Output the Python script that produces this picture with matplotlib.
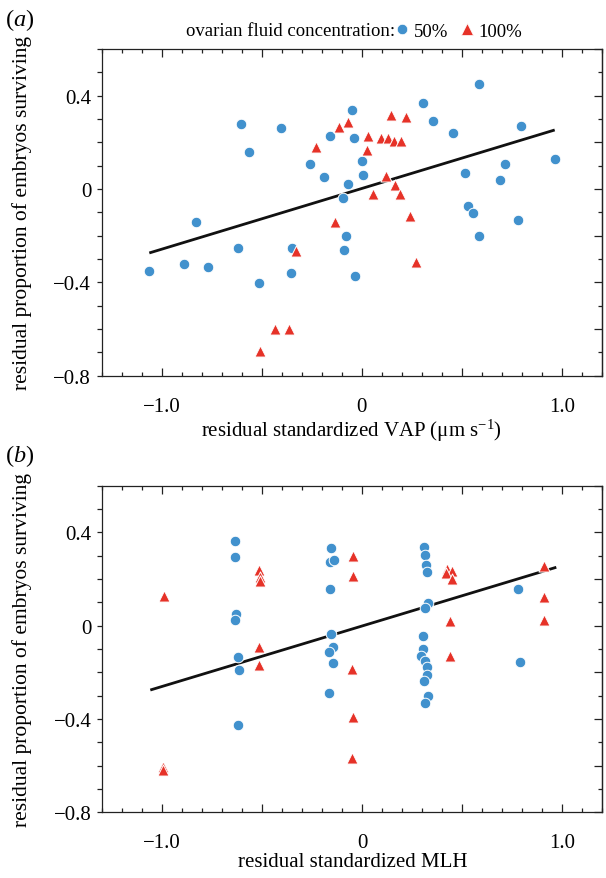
import numpy as np
import matplotlib
matplotlib.use("Agg")
import matplotlib.pyplot as plt
from matplotlib.ticker import MultipleLocator, FuncFormatter
from matplotlib.lines import Line2D

plt.rcParams['font.family'] = ['Liberation Serif', 'DejaVu Serif']
plt.rcParams['mathtext.fontset'] = 'custom'
plt.rcParams['mathtext.rm'] = 'Liberation Serif'
plt.rcParams['mathtext.it'] = 'Liberation Serif:italic'

# panel (a): residual VAP vs residual survival
vap_50_x = [-0.603, -0.402, -0.563, -0.159, -0.047, -0.037, -0.257, -0.187, -0.068, -0.095,
            0.307, 0.585, 0.358, 0.458, 0.798, 0.0, 0.008, 0.518, 0.718, 0.967,
            0.693, 0.532, -1.063, -0.887, -0.828, -0.767, -0.617, -0.515, -0.347, -0.355,
            -0.08, -0.088, -0.035, 0.557, 0.782, 0.585]
vap_50_y = [0.28, 0.26, 0.159, 0.229, 0.34, 0.22, 0.108, 0.05, 0.02, -0.04,
            0.37, 0.45, 0.29, 0.24, 0.269, 0.12, 0.06, 0.069, 0.109, 0.13,
            0.04, -0.071, -0.351, -0.321, -0.141, -0.333, -0.251, -0.401, -0.251, -0.36,
            -0.201, -0.261, -0.371, -0.101, -0.131, -0.201]
vap_100_x = [-0.227, -0.115, -0.07, 0.148, 0.223, 0.032, 0.098, 0.133, 0.16, 0.197,
             0.028, 0.123, 0.165, 0.055, 0.19, -0.33, -0.432, -0.362, -0.507, -0.132,
             0.24, 0.272]
vap_100_y = [0.179, 0.267, 0.287, 0.319, 0.307, 0.226, 0.217, 0.217, 0.205, 0.207,
             0.167, 0.057, 0.019, -0.023, -0.023, -0.264, -0.60, -0.60, -0.694, -0.143,
             -0.114, -0.314]

# panel (b): residual MLH vs residual survival
mlh_50_x = [-0.638, -0.635, -0.63, -0.634, -0.622, -0.617, -0.622,
            -0.157, -0.162, -0.14, -0.162, -0.157, -0.147, -0.168, -0.147, -0.165,
            0.308, 0.313, 0.317, 0.322, 0.328, 0.315, 0.302, 0.305, 0.292, 0.315,
            0.325, 0.325, 0.31, 0.33, 0.315, 0.778, 0.788]
mlh_50_y = [0.363, 0.292, 0.049, 0.026, -0.136, -0.191, -0.426,
            0.332, 0.272, 0.28, 0.156, -0.036, -0.093, -0.113, -0.16, -0.288,
            0.337, 0.302, 0.26, 0.229, 0.096, 0.076, -0.044, -0.1, -0.129, -0.15,
            -0.176, -0.211, -0.237, -0.3, -0.331, 0.157, -0.156]
mlh_100_x = [-0.99, -0.995, -0.995, -0.515, -0.512, -0.51, -0.515, -0.518,
             -0.045, -0.045, -0.05, -0.045, -0.05,
             0.423, 0.45, 0.417, 0.45, 0.437, 0.437, 0.907, 0.907, 0.91]
mlh_100_y = [0.126, -0.604, -0.62, 0.239, 0.21, 0.19, -0.093, -0.168,
             0.30, 0.213, -0.186, -0.392, -0.569,
             0.243, 0.236, 0.224, 0.2, 0.019, -0.131, 0.254, 0.122, 0.024]

# fitted lines (end points)
fit_a_x = [-1.062, 0.965]
fit_a_y = [-0.274, 0.253]
fit_b_x = [-1.06, 0.97]
fit_b_y = [-0.276, 0.25]

blue = '#4191cd'
red = '#e63228'
FS = 15

fig = plt.figure(figsize=(6.06, 8.79), dpi=100)
ax_a = fig.add_axes([101.7/606, 1-376.7/879, 500/606, 326.7/879])
ax_b = fig.add_axes([102.3/606, 1-813.3/879, 500/606, 326.7/879])


def xfmt(v, pos):
    if abs(v + 1) < 1e-6:
        return '\u22121.0'
    if abs(v) < 1e-6:
        return '0'
    if abs(v - 1) < 1e-6:
        return '1.0'
    return ''


def yfmt(v, pos):
    if abs(v) < 1e-6:
        return '0'
    return ('\u2212' if v < 0 else '') + '%.1f' % abs(v)


def style(ax):
    ax.set_xlim(-1.3, 1.2)
    ax.set_ylim(-0.8, 0.6)
    for s in ax.spines.values():
        s.set_linewidth(0.9)
        s.set_color('#222222')
    ax.xaxis.set_major_locator(MultipleLocator(0.5))
    ax.xaxis.set_minor_locator(MultipleLocator(0.1))
    ax.xaxis.set_major_formatter(FuncFormatter(xfmt))
    ax.yaxis.set_major_locator(MultipleLocator(0.4))
    ax.yaxis.set_minor_locator(MultipleLocator(0.1))
    ax.yaxis.set_major_formatter(FuncFormatter(yfmt))
    ax.tick_params(axis='x', which='both', direction='in', top=True, bottom=True,
                   labelsize=FS, pad=15, color='#222222', width=0.9)
    ax.tick_params(axis='x', which='major', length=5.8)
    ax.tick_params(axis='x', which='minor', length=2.9)
    ax.tick_params(axis='y', which='both', direction='out', left=True, right=False,
                   length=3.6, labelsize=FS, pad=4, color='#222222', width=0.9)
    sec = ax.secondary_yaxis('right')
    sec.yaxis.set_major_locator(MultipleLocator(0.2))
    sec.yaxis.set_minor_locator(MultipleLocator(0.1))
    sec.tick_params(which='both', direction='in', labelright=False, color='#222222', width=0.9)
    sec.tick_params(which='major', length=5.8)
    sec.tick_params(which='minor', length=2.9)
    sec.spines['right'].set_linewidth(0.9)
    sec.spines['right'].set_color('#222222')
    ax.set_ylabel('residual proportion of embryos surviving', fontsize=FS + 0.5)
    ax.yaxis.set_label_coords(-0.14, 0.5)


for ax, xb, yb, xr, yr, fx, fy in [
        (ax_a, vap_50_x, vap_50_y, vap_100_x, vap_100_y, fit_a_x, fit_a_y),
        (ax_b, mlh_50_x, mlh_50_y, mlh_100_x, mlh_100_y, fit_b_x, fit_b_y)]:
    style(ax)
    ax.plot(fx, fy, color='#111111', lw=2.0, zorder=2, solid_capstyle='butt')
    ax.scatter(xb, yb, s=58, marker='o', color=blue, edgecolor='white', linewidth=0.7, zorder=3)
    ax.scatter(xr, yr, s=64, marker='^', color=red, edgecolor='white', linewidth=0.7, zorder=3)

ax_a.set_xlabel('residual standardized VAP (\u03bcm s$^{\u22121}$)', fontsize=FS)
ax_a.xaxis.set_label_coords(0.5, -0.125)
ax_b.set_xlabel('residual standardized MLH', fontsize=FS)
ax_b.xaxis.set_label_coords(0.5, -0.12)

fig.text(5/606, 1-20/879, r'($\mathit{a}$)', fontsize=17.5, va='center', ha='left')
fig.text(5/606, 1-456/879, r'($\mathit{b}$)', fontsize=17.5, va='center', ha='left')

# legend line at the top
fig.text(395/606, 1-32/879, 'ovarian fluid concentration:', fontsize=13.5,
         ha='right', va='center')
handles = [Line2D([], [], marker='o', ls='', color=blue, markersize=7.5,
                  markeredgecolor='white', markeredgewidth=0.5),
           Line2D([], [], marker='^', ls='', color=red, markersize=8.5,
                  markeredgecolor='white', markeredgewidth=0.5)]
fig.legend(handles, ['50%', '100%'], loc='center left',
           bbox_to_anchor=(393/606, 1-32/879), ncol=2, frameon=False,
           fontsize=13.5, handlelength=1.0, handletextpad=0.1,
           columnspacing=0.5, borderpad=0, borderaxespad=0)

fig.savefig('out.png', dpi=100)
